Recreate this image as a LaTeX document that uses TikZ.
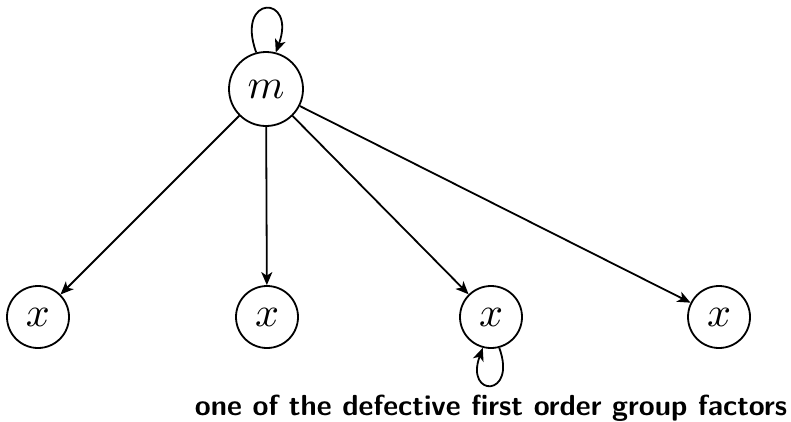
\documentclass[tikz,border=0pt]{standalone}
\usepackage{graphicx}
\usetikzlibrary{arrows.meta}
\newcommand{\bigsym}[1]{\scalebox{4.2}{$#1$}}
\begin{document}
\begin{tikzpicture}[x=1pt,y=-1pt,
  every path/.style={line width=1.8pt},
  vertex/.style={draw,circle,inner sep=0pt,line width=1.8pt},
  big/.style={vertex,minimum size=74pt},
  small/.style={vertex,minimum size=62pt},
  edge/.style={-{Stealth[length=13pt,width=11pt,inset=3.5pt]},line width=1.8pt},
  caption/.style={font=\sffamily\bfseries,inner sep=0pt,anchor=base}]
\useasboundingbox (0,0) rectangle (791,421);

% root and leaves
\node[big]   (m)  at (266,89)  {\bigsym{m}};
\node[small] (x1) at (38,317)  {\bigsym{x}};
\node[small] (x2) at (267,317) {\bigsym{x}};
\node[small] (x3) at (491,317) {\bigsym{x}};
\node[small] (x4) at (719,317) {\bigsym{x}};

% edges from the root
\draw[edge] (m) -- (x1);
\draw[edge] (m) -- (x2);
\draw[edge] (m) -- (x3);
\draw[edge] (m) -- (x4);

% self loops (the y axis points down, so polar angles are mirrored)
\draw[edge] (m.105) .. controls +(-110:62) and +(-70:62) .. (m.75);
\draw[edge] (x3.-75) .. controls +(70:53) and +(110:53) .. (x3.-105);

% caption
\node[caption] (lbl) at (491,415) {\resizebox{592pt}{!}{one of the defective first order group factors}};
\end{tikzpicture}
\end{document}
